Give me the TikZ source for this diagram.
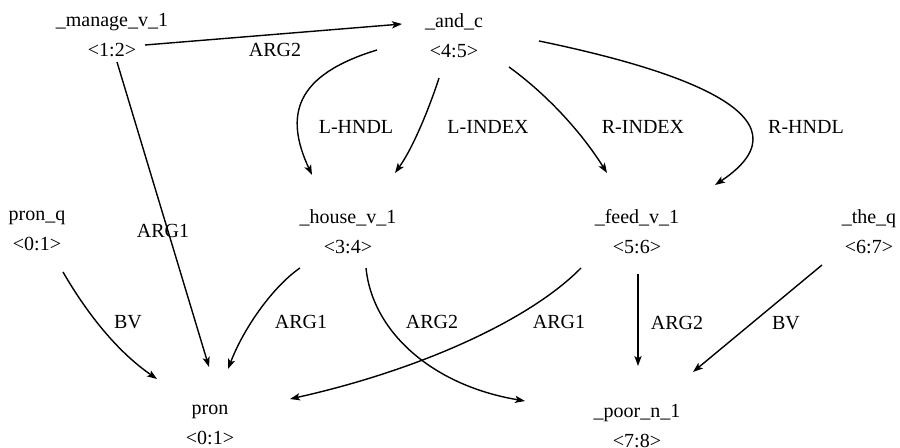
\documentclass[tikz,border=0pt]{standalone}
\usepackage{fontspec}
\setmainfont{Liberation Serif}
\usetikzlibrary{arrows.meta}
\begin{document}
\begin{tikzpicture}[x=0.5pt,y=-0.5pt,
  pred/.style={align=center,inner sep=0pt,font=\fontsize{10}{15}\selectfont},
  lbl/.style={inner sep=0pt,font=\fontsize{10}{12}\selectfont},
  edge/.style={line width=0.7pt,-{Stealth[length=5pt,width=3.6pt,inset=1.2pt]}}]
\useasboundingbox (0,0) rectangle (900,448);
% nodes
\node[pred] (manage) at (112,35) {\_manage\_v\_1\\\textless1:2\textgreater};
\node[pred] (and)    at (454,36) {\_and\_c\\\textless4:5\textgreater};
\node[pred] (pronq)  at (37,231) {pron\_q\\\textless0:1\textgreater};
\node[pred] (house)  at (348,232) {\_house\_v\_1\\\textless3:4\textgreater};
\node[pred] (feed)   at (637,232) {\_feed\_v\_1\\\textless5:6\textgreater};
\node[pred] (theq)   at (869,232) {\_the\_q\\\textless6:7\textgreater};
\node[pred] (pron)   at (210,425) {pron\\\textless0:1\textgreater};
\node[pred] (poor)   at (637,426) {\_poor\_n\_1\\\textless7:8\textgreater};
% edges
\draw[edge] ([shift={(33,10)}]manage.center) -- ([shift={(-52,-12)}]and.center);
\draw[edge] ([shift={(5,27)}]manage.center) -- ([shift={(-1,-58)}]pron.center);
\draw[edge] ([shift={(-77,14)}]and.center) .. controls (295,75) and (284,115) .. ([shift={(-36,-57)}]house.center);
\draw[edge] ([shift={(-15,42)}]and.center) .. controls (432,100) and (415,145) .. ([shift={(47,-59)}]house.center);
\draw[edge] ([shift={(55,31)}]and.center) .. controls (545,93) and (580,130) .. ([shift={(-30,-59)}]feed.center);
\draw[edge] ([shift={(85,5)}]and.center) .. controls (670,68) and (820,115) .. ([shift={(78,-47)}]feed.center);
\draw[edge] ([shift={(26,41)}]pronq.center) .. controls (85,310) and (115,350) .. ([shift={(-53,-46)}]pron.center);
\draw[edge] ([shift={(-48,36)}]house.center) .. controls (275,285) and (245,325) .. ([shift={(18,-56)}]pron.center);
\draw[edge] ([shift={(18,36)}]house.center) .. controls (372,330) and (430,385) .. ([shift={(-112,-25)}]poor.center);
\draw[edge] ([shift={(-56,36)}]feed.center) .. controls (530,320) and (420,370) .. ([shift={(80,-26)}]pron.center);
\draw[edge] ([shift={(1,42)}]feed.center) -- ([shift={(1,-60)}]poor.center);
\draw[edge] ([shift={(-47,33)}]theq.center) -- ([shift={(56,-54)}]poor.center);
% labels
\node[lbl] (l1) at (275,50) {ARG2};
\node[lbl] (l2) at (163,231) {ARG1};
\node[lbl] (l3) at (356,127) {L-HNDL};
\node[lbl] (l4) at (488,127) {L-INDEX};
\node[lbl] (l5) at (643,127) {R-INDEX};
\node[lbl] (l6) at (806,127) {R-HNDL};
\node[lbl] (l7) at (128,322) {BV};
\node[lbl] (l8) at (301,322) {ARG1};
\node[lbl] (l9) at (432,322) {ARG2};
\node[lbl] (l10) at (559,322) {ARG1};
\node[lbl] (l11) at (677,323) {ARG2};
\node[lbl] (l12) at (786,323) {BV};
\end{tikzpicture}
\end{document}
